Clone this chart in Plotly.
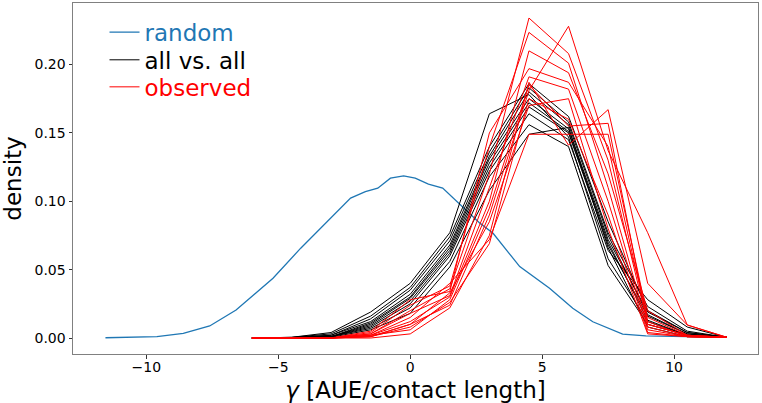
import plotly.graph_objects as go

# ---- data ----
random_x = [-11.55, -10.6, -9.6, -8.6, -7.6, -6.6, -5.2, -4.15, -2.26, -1.7, -1.23,
            -0.75, -0.25, 0.19, 0.69, 1.23, 2.64, 3.14, 4.15, 5.28, 6.16, 6.92,
            8.05, 8.93, 10.57, 12.0]
random_y = [0.0002, 0.0005, 0.001, 0.0034, 0.0088, 0.0205, 0.0437, 0.0657, 0.1023,
            0.107, 0.1096, 0.1169, 0.1186, 0.1169, 0.1125, 0.1096, 0.084, 0.0766,
            0.0522, 0.0364, 0.0217, 0.0119, 0.0029, 0.0015, 0.001, 0.0005]

bins = [-6, -4.5, -3, -1.5, 0, 1.5, 3, 4.5, 6, 7.5, 9, 10.5, 12]

all_vs_all = [
    [0, 0.0005, 0.004, 0.019, 0.040, 0.077, 0.164, 0.178, 0.147, 0.058, 0.012, 0.002, 0.0005],
    [0, 0.0005, 0.003, 0.016, 0.037, 0.074, 0.140, 0.186, 0.162, 0.085, 0.020, 0.004, 0.0005],
    [0, 0.0003, 0.002, 0.014, 0.035, 0.071, 0.136, 0.183, 0.158, 0.077, 0.023, 0.005, 0.0005],
    [0, 0.0003, 0.002, 0.012, 0.032, 0.068, 0.133, 0.180, 0.156, 0.075, 0.017, 0.003, 0.0005],
    [0, 0.0002, 0.001, 0.011, 0.030, 0.066, 0.131, 0.175, 0.153, 0.072, 0.019, 0.004, 0.0005],
    [0, 0.0002, 0.001, 0.010, 0.029, 0.064, 0.128, 0.172, 0.151, 0.070, 0.013, 0.002, 0.0005],
    [0, 0.0002, 0.001, 0.009, 0.027, 0.062, 0.125, 0.169, 0.150, 0.068, 0.016, 0.003, 0.0005],
    [0, 0.0001, 0.001, 0.008, 0.025, 0.060, 0.122, 0.164, 0.145, 0.064, 0.028, 0.008, 0.0005],
    [0, 0.0001, 0.001, 0.007, 0.022, 0.056, 0.118, 0.156, 0.140, 0.053, 0.010, 0.002, 0.0005],
    [0, 0.0001, 0.0005, 0.006, 0.018, 0.052, 0.108, 0.149, 0.154, 0.066, 0.008, 0.001, 0.0005],
]

observed = [
    [0, 0, 0, 0.003, 0.020, 0.036, 0.120, 0.234, 0.208, 0.130, 0.010, 0.002, 0.0005],
    [0, 0, 0, 0.004, 0.024, 0.038, 0.140, 0.2235, 0.201, 0.110, 0.008, 0.001, 0.0005],
    [0, 0, 0, 0.002, 0.012, 0.030, 0.100, 0.210, 0.194, 0.120, 0.020, 0.002, 0.0005],
    [0, 0, 0, 0.001, 0.010, 0.024, 0.090, 0.181, 0.228, 0.137, 0.077, 0.0095, 0.0005],
    [0, 0, 0, 0.005, 0.028, 0.034, 0.150, 0.197, 0.187, 0.140, 0.012, 0.001, 0.0005],
    [0, 0, 0, 0.000, 0.003, 0.022, 0.075, 0.187, 0.141, 0.167, 0.040, 0.0095, 0.0005],
    [0, 0, 0, 0.002, 0.015, 0.040, 0.072, 0.149, 0.149, 0.149, 0.015, 0.002, 0.0005],
    [0, 0, 0, 0.003, 0.018, 0.031, 0.110, 0.191, 0.182, 0.100, 0.006, 0.001, 0.0005],
    [0, 0, 0, 0.001, 0.008, 0.026, 0.069, 0.175, 0.160, 0.090, 0.004, 0.001, 0.0005],
    [0, 0, 0, 0.002, 0.006, 0.028, 0.095, 0.185, 0.155, 0.157, 0.010, 0.002, 0.0005],
    [0, 0, 0, 0.001, 0.010, 0.033, 0.085, 0.170, 0.175, 0.080, 0.003, 0.001, 0.0005],
]

x_tickvals = [-10, -5, 0, 5, 10]
x_ticktext = ["\u221210", "\u22125", "0", "5", "10"]
y_tickvals = [0.0, 0.05, 0.10, 0.15, 0.20]
y_ticktext = ["0.00", "0.05", "0.10", "0.15", "0.20"]

BLUE = "#1f77b4"
FONT = "DejaVu Sans"

fig = go.Figure()
fig.add_trace(go.Scatter(x=random_x, y=random_y, mode="lines",
                         line=dict(color=BLUE, width=1.3),
                         name=f"<span style='color:{BLUE}'>random</span>",
                         legendgroup="r", legend="legend"))
for i, ys in enumerate(all_vs_all):
    fig.add_trace(go.Scatter(x=bins, y=ys, mode="lines",
                             line=dict(color="black", width=1),
                             name="<span style='color:black'>all vs. all</span>",
                             legendgroup="a", showlegend=(i == 0), legend="legend2"))
for i, ys in enumerate(observed):
    fig.add_trace(go.Scatter(x=bins, y=ys, mode="lines",
                             line=dict(color="red", width=1),
                             name="<span style='color:red'>observed</span>",
                             legendgroup="o", showlegend=(i == 0), legend="legend3"))

axis_common = dict(showline=True, linecolor="#808080", linewidth=1, mirror=True,
                   ticks="outside", ticklen=3.5, tickcolor="#333", tickwidth=1,
                   showgrid=False, zeroline=False,
                   tickfont=dict(family=FONT, size=14, color="black"))

leg_common = dict(x=0.046, xanchor="left", yanchor="middle",
                  font=dict(family=FONT, size=23),
                  bgcolor="rgba(255,255,255,0)", borderwidth=0,
                  itemwidth=30)

fig.update_layout(
    width=762, height=403,
    margin=dict(l=73, r=4, t=3, b=49, autoexpand=False),
    paper_bgcolor="white", plot_bgcolor="white",
    font=dict(family=FONT, color="black"),
    xaxis=dict(range=[-12.78, 13.18], tickvals=x_tickvals, ticktext=x_ticktext,
               ticklabelstandoff=-3,
               title=dict(text="<i>γ</i> [AUE/contact length]", standoff=7,
                          font=dict(family=FONT, size=23)),
               **axis_common),
    yaxis=dict(range=[-0.0117, 0.245], tickvals=y_tickvals, ticktext=y_ticktext,
               title=dict(text="density", standoff=8,
                          font=dict(family=FONT, size=23)),
               **axis_common),
    legend=dict(y=0.917, **leg_common),
    legend2=dict(y=0.838, **leg_common),
    legend3=dict(y=0.761, **leg_common),
    showlegend=True,
)

fig.write_html("out.html",
               config={"displayModeBar": False},
               post_script="document.body.style.margin='0';document.body.style.overflow='hidden';")
